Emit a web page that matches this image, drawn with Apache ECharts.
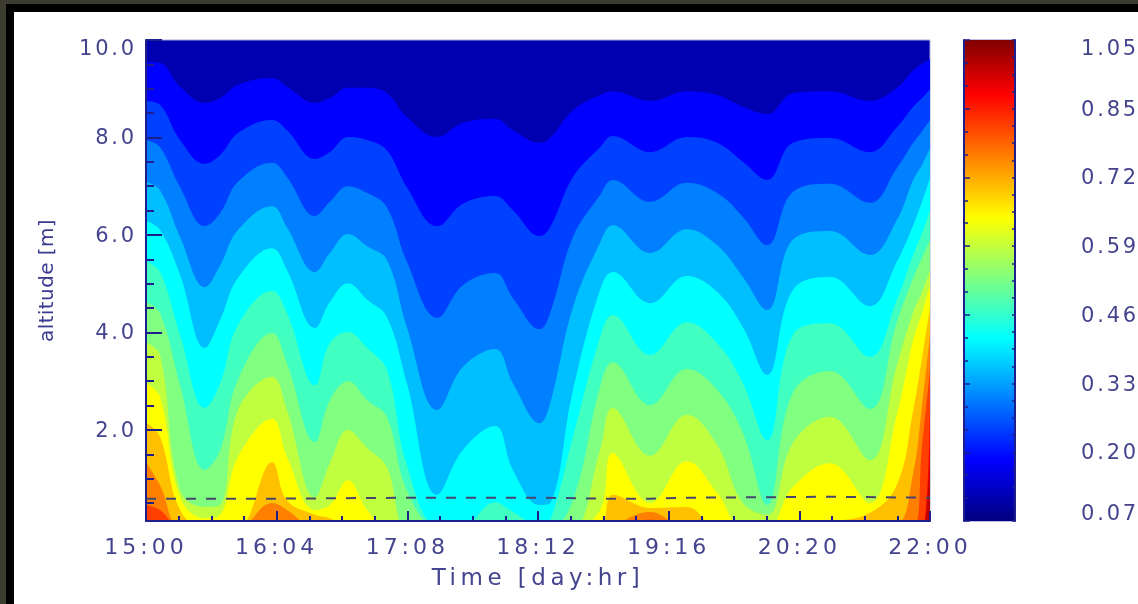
<!DOCTYPE html>
<html>
<head>
<meta charset="utf-8">
<style>
html,body{margin:0;padding:0;width:1138px;height:604px;overflow:hidden;background:#3c3c30}
#black{position:absolute;left:6px;top:4px;right:0;bottom:0;background:#000}
#white{position:absolute;left:14px;top:12px;right:0;bottom:0;background:#fff}
#main{position:absolute;left:0;top:0;width:1138px;height:604px;filter:blur(0.6px)}
text[style*="22px"]{letter-spacing:4px}
text[style*="21px"]{letter-spacing:2.8px}
text[style*="20px"]{letter-spacing:0.4px}
text[style*="23px"]{letter-spacing:4.5px}
</style>
<script src="https://cdn.jsdelivr.net/npm/echarts@6/dist/echarts.min.js"></script>
</head>
<body>
<div id="black"></div><div id="white"></div><div id="main"></div>
<script>
// hours since 15:00 (x) and altitude in m of each contour boundary
var hours = [0,3,7.3,12.6,15.9,19.7,27,30.2,36.2,39.4,43.3,47.4,51.6,55.9,62.4,67.9,74.8,78.6,84.4,86.6,91.5,97.3,100,108,115.9,122.4,127.9,133.1,138.6,146.6,155.1,160.9,164.4,166.3,168];
var level1 = [9.55,9.53,9.04,8.71,8.81,9.08,9.22,9.04,8.71,8.81,9.02,9.02,8.91,8.42,8.01,8.30,8.38,8.15,7.89,7.99,8.56,8.87,8.95,8.75,8.95,8.87,8.63,8.48,8.91,8.95,8.75,9.02,9.38,9.51,9.61];
var level2 = [8.75,8.67,7.95,7.46,7.64,8.09,8.36,8.15,7.56,7.70,8.01,7.95,7.74,6.98,6.18,6.64,6.80,6.51,5.98,6.16,7.19,7.80,8.03,7.70,8.01,7.89,7.50,7.13,7.89,7.99,7.70,8.21,8.63,8.81,8.99];
var level3 = [7.95,7.80,6.98,6.18,6.45,7.09,7.48,7.19,6.39,6.68,7.00,6.86,6.57,5.45,4.30,4.97,5.22,4.71,4.07,4.40,5.96,6.82,7.13,6.68,7.07,6.86,6.37,5.79,6.88,7.05,6.66,7.37,7.89,8.13,8.36];
var level4 = [7.09,6.92,5.96,4.93,5.38,6.10,6.59,6.16,5.24,5.63,6.02,5.77,5.49,4.11,2.41,3.29,3.66,2.96,2.14,2.55,4.52,5.84,6.20,5.63,6.12,5.79,5.14,4.46,5.90,6.08,5.59,6.31,7.13,7.44,7.78];
var level5 = [6.29,6.10,5.18,3.68,4.26,5.12,5.73,5.28,4.09,4.62,5.01,4.67,4.32,2.96,0.67,1.59,2.08,1.18,0.46,0.50,2.82,4.87,5.24,4.60,5.16,4.83,4.11,3.13,4.87,5.14,4.54,5.45,6.20,6.68,7.17];
var level6 = [5.47,5.24,3.95,2.45,2.96,4.15,4.85,4.40,2.92,3.78,4.01,3.68,3.23,1.28,0.05,0.05,0.52,0.32,0.05,0.15,1.86,3.89,4.36,3.54,4.21,3.78,2.96,1.79,3.95,4.19,3.50,4.67,5.59,6.04,6.51];
var level7 = [4.62,4.40,2.92,1.18,1.59,3.03,3.99,3.37,1.75,2.61,3.00,2.61,2.27,0.77,0,0,0,0,0,0,0.56,2.88,3.39,2.51,3.25,2.82,1.94,0.46,2.76,3.21,2.43,4.21,5.12,5.53,5.90];
var level8 = [3.80,3.54,0.77,0.42,0.46,2.41,3.09,2.41,0.62,1.32,2.00,1.63,1.24,0,0,0,0,0,0,0,0,1.59,2.45,1.47,2.31,1.69,0.50,0.26,1.73,2.27,1.38,3.33,4.42,4.83,5.28];
var level9 = [2.96,2.68,0.62,0.19,0.26,1.45,2.23,1.45,0.36,0.46,0.97,0.36,0,0,0,0,0,0,0,0,0,0.36,1.53,0.50,1.36,0.71,0,0,0.83,1.32,0.50,2.31,3.85,4.40,4.97];
var level10 = [2.16,1.86,0.36,0,0,0,1.34,0.56,0.26,0.19,0,0,0,0,0,0,0,0,0,0,0,0,0.67,0.40,0.42,0,0,0,0,0.11,0.30,0.87,2.41,3.48,4.52];
var level11 = [1.34,0.87,0,0,0,0,0.50,0.36,0,0,0,0,0,0,0,0,0,0,0,0,0,0,0.05,0.32,0,0,0,0,0,0,0,0.05,1.12,2.51,3.95];
var level12 = [0.46,0.36,0,0,0,0,0,0,0,0,0,0,0,0,0,0,0,0,0,0,0,0,0,0.16,0,0,0,0,0,0,0,0,0,1.69,3.23];
var level13 = [0,0,0,0,0,0,0,0,0,0,0,0,0,0,0,0,0,0,0,0,0,0,0,0,0,0,0,0,0,0,0,0,0,0,2.41];
var level14 = [0,0,0,0,0,0,0,0,0,0,0,0,0,0,0,0,0,0,0,0,0,0,0,0,0,0,0,0,0,0,0,0,0,0,1.59];
var levels = [level1,level2,level3,level4,level5,level6,level7,level8,level9,level10,level11,level12,level13,level14];
var bandColors = ['#0000ff','#0040ff','#0080ff','#00bfff','#00ffff','#40ffc0','#80ff80','#c0ff40','#ffff00','#ffc000','#ff8000','#ff4000','#ff0000','#c00000'];
var dashHours = [0,27,55.9,84.4,99.4,108,115.9,146.6,168];
var dashAlt = [0.59,0.59,0.61,0.61,0.59,0.59,0.61,0.63,0.61];
var timeLabels = ['15:00','16:04','17:08','18:12','19:16','20:20','22:00'];
var yMajor = [2,4,6,8,10];
var yMinor = [0.5,1,1.5,2.5,3,3.5,4.5,5,5.5,6.5,7,7.5,8.5,9,9.5];
var barLabels = ['0.07','0.20','0.33','0.46','0.59','0.72','0.85','1.05'];

var navy = '#1e1e8c', txt = '#44448f';
function pairs(xs, ys){ return xs.map(function(x,i){ return [x, ys[i]]; }); }

var series = levels.map(function(l,i){
  return {type:'line', xAxisIndex:0, yAxisIndex:0, data:pairs(hours,l), smooth:0.4, showSymbol:false,
    lineStyle:{width:0}, areaStyle:{color:bandColors[i],opacity:1,origin:'start'}, animation:false, silent:true, z:2+i*0.01};
});
series.push({type:'line', xAxisIndex:0, yAxisIndex:0, data:pairs(dashHours,dashAlt), showSymbol:false, smooth:false,
  lineStyle:{color:'#45456e',width:2,type:[10,10]}, animation:false, silent:true, z:3});
series.push({type:'bar', xAxisIndex:1, yAxisIndex:2, data:[7], barWidth:'100%', animation:false, silent:true,
  itemStyle:{color:{type:'linear',x:0,y:0,x2:0,y2:1,colorStops:[
    {offset:0,color:'#800000'},{offset:0.114,color:'#ff0000'},{offset:0.37,color:'#ffff00'},
    {offset:0.495,color:'#80ff80'},{offset:0.62,color:'#00ffff'},{offset:0.873,color:'#0000ff'},{offset:1,color:'#000080'}]}}});

var chart = echarts.init(document.getElementById('main'), null, {renderer:'svg', width:1138, height:604});
chart.setOption({
  animation:false,
  backgroundColor:'transparent',
  grid:[
    {left:146,top:40,width:784,height:481,show:true,backgroundColor:'#0000b0',borderColor:'#a8a8e0',borderWidth:1},
    {left:964,top:40,width:51,height:481,show:true,backgroundColor:'#000080',borderColor:'#8080d0',borderWidth:1}
  ],
  xAxis:[
    {type:'value',gridIndex:0,min:0,max:168,interval:28,z:10,
     name:'Time [day:hr]',nameLocation:'middle',nameGap:44,nameTextStyle:{color:txt,fontFamily:'DejaVu Sans',fontSize:23},
     axisLine:{show:true,lineStyle:{color:navy,width:2}},
     axisTick:{show:true,inside:true,length:10,lineStyle:{color:navy,width:2}},
     minorTick:{show:true,splitNumber:4,length:5,lineStyle:{color:navy,width:2}},
     splitLine:{show:false},minorSplitLine:{show:false},
     axisLabel:{color:txt,fontFamily:'DejaVu Sans',fontSize:22,margin:14,showMinLabel:true,showMaxLabel:true,hideOverlap:false,
       formatter:function(v){return timeLabels[Math.round(v/28)];}}},
    {type:'category',gridIndex:1,data:[''],show:false}
  ],
  yAxis:[
    {type:'value',gridIndex:0,position:'left',min:0.133,max:10,z:10,
     name:'altitude [m]',nameLocation:'middle',nameGap:90,nameTextStyle:{color:'#3a3a90',fontFamily:'DejaVu Sans',fontSize:20},
     axisLine:{show:true,lineStyle:{color:navy,width:2}},
     axisTick:{show:true,inside:true,length:16,customValues:yMajor,lineStyle:{color:navy,width:2}},
     splitLine:{show:false},
     axisLabel:{color:txt,fontFamily:'DejaVu Sans',fontSize:21,lineHeight:16,margin:9,customValues:yMajor,verticalAlignMaxLabel:'top',
       formatter:function(v){return v.toFixed(1);}}},
    {type:'value',gridIndex:0,position:'left',min:0.133,max:10,z:10,
     axisLine:{show:false},
     axisTick:{show:true,inside:true,length:8,customValues:yMinor,lineStyle:{color:navy,width:2}},
     splitLine:{show:false},axisLabel:{show:false}},
    {type:'value',gridIndex:1,position:'left',min:0,max:7,interval:1,z:10,
     axisLine:{show:true,lineStyle:{color:navy,width:2}},
     axisTick:{show:true,inside:true,length:6,lineStyle:{color:navy,width:1.5}},
     minorTick:{show:true,splitNumber:3,length:4,lineStyle:{color:navy,width:1.5}},
     splitLine:{show:false},minorSplitLine:{show:false},axisLabel:{show:false}},
    {type:'value',gridIndex:1,position:'right',min:0,max:7,interval:1,z:10,
     axisLine:{show:true,lineStyle:{color:navy,width:2}},
     axisTick:{show:true,inside:true,length:3,lineStyle:{color:navy,width:1.5}},
     minorTick:{show:true,splitNumber:4,length:3,lineStyle:{color:navy,width:1.5}},
     splitLine:{show:false},minorSplitLine:{show:false},
     axisLabel:{color:txt,fontFamily:'DejaVu Sans',fontSize:21,lineHeight:16,margin:66,align:'left',
       verticalAlignMinLabel:'bottom',verticalAlignMaxLabel:'top',showMinLabel:true,showMaxLabel:true,
       formatter:function(v){return barLabels[Math.round(v)];}}}
  ],
  series:series
});
</script>
</body>
</html>
